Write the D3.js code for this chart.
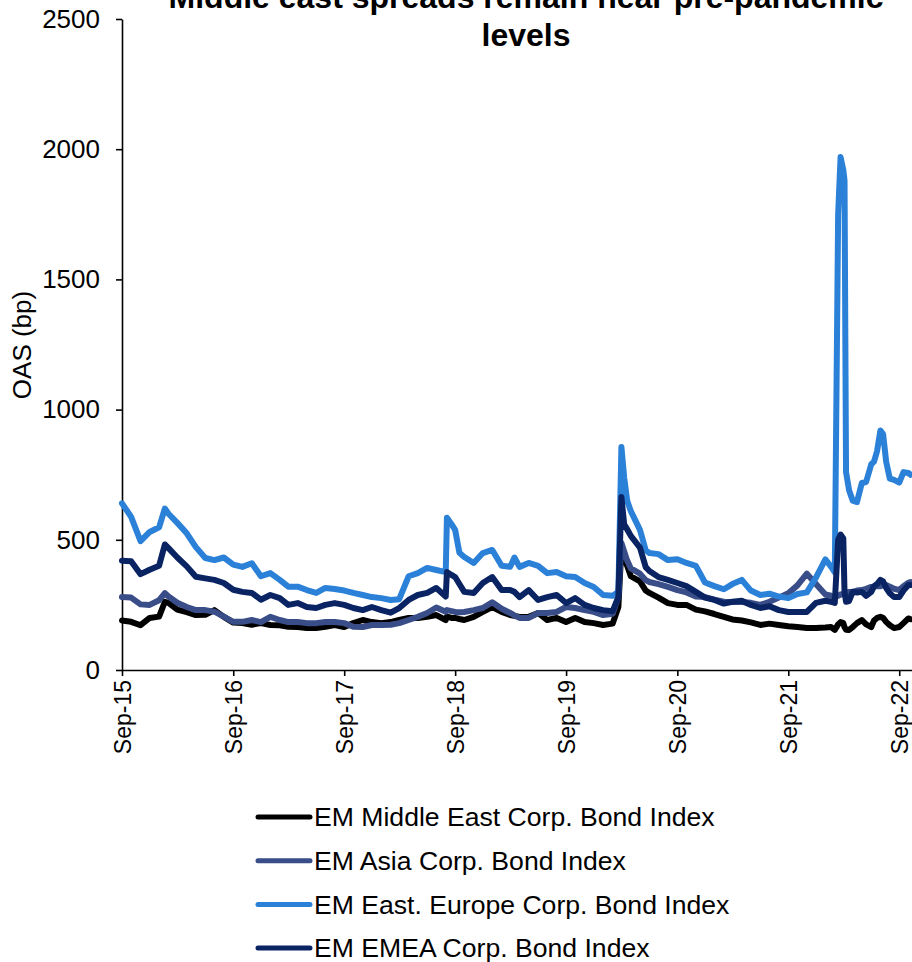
<!DOCTYPE html>
<html>
<head>
<meta charset="utf-8">
<script src="https://cdn.jsdelivr.net/npm/d3@7"></script>
<style>
  html, body { margin: 0; padding: 0; background: #ffffff; }
  svg { display: block; font-family: Arial, "Liberation Sans", sans-serif; }
</style>
</head>
<body>
<svg id="chart" width="912" height="962"></svg>
<script>
// Observation dates (month starts plus a few extra points around stress episodes)
const dates = [
  "2015-09-01","2015-10-01","2015-11-01","2015-12-01",
  "2016-01-01","2016-01-20","2016-02-01","2016-03-01","2016-04-01","2016-05-01","2016-06-01","2016-07-01","2016-08-01","2016-09-01","2016-10-01","2016-11-01","2016-12-01",
  "2017-01-01","2017-02-01","2017-03-01","2017-04-01","2017-05-01","2017-06-01","2017-07-01","2017-08-01","2017-09-01","2017-10-01","2017-11-01","2017-12-01",
  "2018-01-01","2018-02-01","2018-03-01","2018-04-01","2018-05-01","2018-06-01","2018-07-01","2018-08-01","2018-08-05","2018-08-20","2018-09-01","2018-09-15","2018-10-01","2018-11-01","2018-12-01",
  "2019-01-01","2019-02-01","2019-03-01","2019-03-15","2019-04-01","2019-05-01","2019-06-01","2019-07-01","2019-08-01","2019-09-01","2019-10-01","2019-11-01","2019-12-01",
  "2020-01-01","2020-02-01","2020-02-20","2020-03-01","2020-03-10","2020-03-20","2020-04-01","2020-05-01","2020-05-20","2020-06-01","2020-07-01","2020-08-01","2020-09-01","2020-10-01","2020-11-01","2020-12-01",
  "2021-01-01","2021-02-01","2021-03-01","2021-04-01","2021-05-01","2021-06-01","2021-07-01","2021-08-01","2021-09-01","2021-10-01","2021-11-01","2021-12-01",
  "2022-01-01","2022-01-20","2022-02-01","2022-02-12","2022-02-20","2022-03-01","2022-03-05","2022-03-10","2022-03-20","2022-04-01","2022-04-15","2022-05-01","2022-05-15","2022-06-01","2022-06-10","2022-06-20","2022-07-01","2022-07-10","2022-07-20","2022-08-01","2022-08-15","2022-09-01","2022-09-15","2022-10-01","2022-10-08"
];

// Option-adjusted spreads, bp
const middleEast = [
  190,185,172,200,
  205,262,258,232,222,211,212,230,204,182,180,174,180,
  173,172,166,165,161,161,166,173,165,180,192,184,
  180,184,192,200,200,204,211,192,205,200,200,196,192,204,223,
  242,223,211,208,204,204,219,192,200,184,200,184,180,
  173,178,242,470,430,400,360,340,305,296,278,257,250,250,232,225,
  215,204,194,190,183,173,178,173,168,165,161,161,
  163,165,154,175,184,180,165,155,154,165,180,192,175,165,190,200,204,200,185,172,161,165,180,198,195
];
const asia = [
  280,278,252,250,
  268,295,282,258,242,230,230,224,205,185,185,192,184,
  204,192,184,184,180,180,184,184,180,166,165,173,
  173,174,180,192,204,219,240,224,230,226,223,222,223,230,238,
  260,235,219,210,200,200,219,219,223,242,238,230,223,
  211,216,280,488,455,420,390,370,345,338,330,319,307,298,282,280,
  270,262,261,261,258,250,262,278,295,325,370,330,
  290,285,280,285,290,292,295,298,300,300,305,307,312,319,320,322,322,326,326,320,312,307,322,335,338
];
const eastEurope = [
  640,588,495,530,
  548,620,600,565,525,472,430,422,432,405,396,410,360,
  372,346,320,320,307,296,315,311,305,296,288,280,
  276,269,272,360,372,392,384,376,585,560,538,450,434,411,449,
  461,400,396,432,396,411,400,372,376,360,357,334,319,
  288,285,300,856,740,650,610,538,460,449,445,422,425,411,400,336,
  322,310,330,346,305,288,293,282,276,292,298,355,
  425,396,375,1750,1970,1920,1880,760,690,650,645,718,722,790,800,840,920,905,800,735,730,720,760,757,750
];
const emea = [
  420,418,368,385,
  400,482,468,432,398,358,352,346,334,308,300,296,270,
  288,276,250,257,242,238,250,257,250,238,230,242,
  230,220,238,269,288,296,315,282,376,365,357,330,300,296,334,
  357,307,307,300,280,307,269,280,288,257,276,250,238,
  230,226,280,664,560,540,515,470,395,380,357,346,334,322,300,278,
  269,255,262,266,250,238,245,230,223,223,223,258,
  266,262,258,500,520,505,300,262,265,300,298,300,285,300,322,330,346,340,315,295,280,280,305,326,326
];

const seriesNames = [
  "EM Middle East Corp. Bond Index",
  "EM Asia Corp. Bond Index",
  "EM East. Europe Corp. Bond Index",
  "EM EMEA Corp. Bond Index"
];
const seriesColors = ["#000000", "#394d88", "#2b80d8", "#0a2463"];

const yTicks = [0, 500, 1000, 1500, 2000, 2500];
const xTickDates = ["2015-09-01","2016-09-01","2017-09-01","2018-09-01","2019-09-01","2020-09-01","2021-09-01","2022-09-01"];
const xTickLabels = ["Sep-15","Sep-16","Sep-17","Sep-18","Sep-19","Sep-20","Sep-21","Sep-22"];

const titleLines = ["Middle east spreads remain near pre-pandemic", "levels"];
const yLabel = "OAS (bp)";

// ---------------------------------------------------------------
const parse = d3.utcParse("%Y-%m-%d");
const svg = d3.select("#chart");

const x = d3.scaleUtc()
  .domain([parse("2015-09-01"), parse("2022-10-13")])
  .range([122, 912]);
const y = d3.scaleLinear().domain([0, 2500]).range([670, 19]);

const seriesValues = [middleEast, asia, eastEurope, emea];
const series = seriesNames.map((name, i) => ({
  name,
  color: seriesColors[i],
  points: dates.map((d, j) => ({ date: parse(d), v: seriesValues[i][j] }))
}));

// Axes
const yAxis = svg.append("g")
  .attr("transform", "translate(122,0)")
  .call(d3.axisLeft(y).tickValues(yTicks).tickFormat(d3.format("d"))
    .tickSize(6).tickSizeOuter(0).tickPadding(16));
yAxis.selectAll("text").attr("font-size", 26).attr("fill", "#000");

const xAxis = svg.append("g")
  .attr("transform", "translate(0,670)")
  .call(d3.axisBottom(x)
    .tickValues(xTickDates.map(parse))
    .tickFormat((d, i) => xTickLabels[i])
    .tickSize(6).tickSizeOuter(0));
xAxis.selectAll("text")
  .attr("font-size", 23)
  .attr("fill", "#000")
  .attr("transform", "rotate(-90)")
  .attr("text-anchor", "end")
  .attr("x", -10)
  .attr("y", 0)
  .attr("dy", "0.35em");

svg.selectAll(".domain, .tick line").attr("stroke", "#000").attr("stroke-width", 1.6);

// Series lines
const line = d3.line().x(d => x(d.date)).y(d => y(d.v));
svg.append("g").selectAll("path")
  .data(series)
  .join("path")
  .attr("d", d => line(d.points))
  .attr("fill", "none")
  .attr("stroke", d => d.color)
  .attr("stroke-width", 6)
  .attr("stroke-linejoin", "round")
  .attr("stroke-linecap", "round");

// Title
const title = svg.append("text")
  .attr("text-anchor", "middle")
  .attr("font-size", 32)
  .attr("font-weight", "bold")
  .attr("fill", "#000");
title.selectAll("tspan")
  .data(titleLines)
  .join("tspan")
  .attr("x", 526)
  .attr("y", (d, i) => 8 + i * 38)
  .text(d => d);

// Y-axis label
svg.append("text")
  .attr("transform", "translate(31,345) rotate(-90)")
  .attr("text-anchor", "middle")
  .attr("font-size", 26)
  .attr("fill", "#000")
  .text(yLabel);

// Legend
const legend = svg.append("g").selectAll("g")
  .data(series)
  .join("g")
  .attr("transform", (d, i) => `translate(0,${817 + i * 43.7})`);
legend.append("line")
  .attr("x1", 258).attr("x2", 310)
  .attr("y1", 0).attr("y2", 0)
  .attr("stroke", d => d.color)
  .attr("stroke-width", 5)
  .attr("stroke-linecap", "round");
legend.append("text")
  .attr("x", 314)
  .attr("y", 0)
  .attr("dy", "0.35em")
  .attr("font-size", 26.6)
  .attr("fill", "#000")
  .text(d => d.name);
</script>
</body>
</html>
